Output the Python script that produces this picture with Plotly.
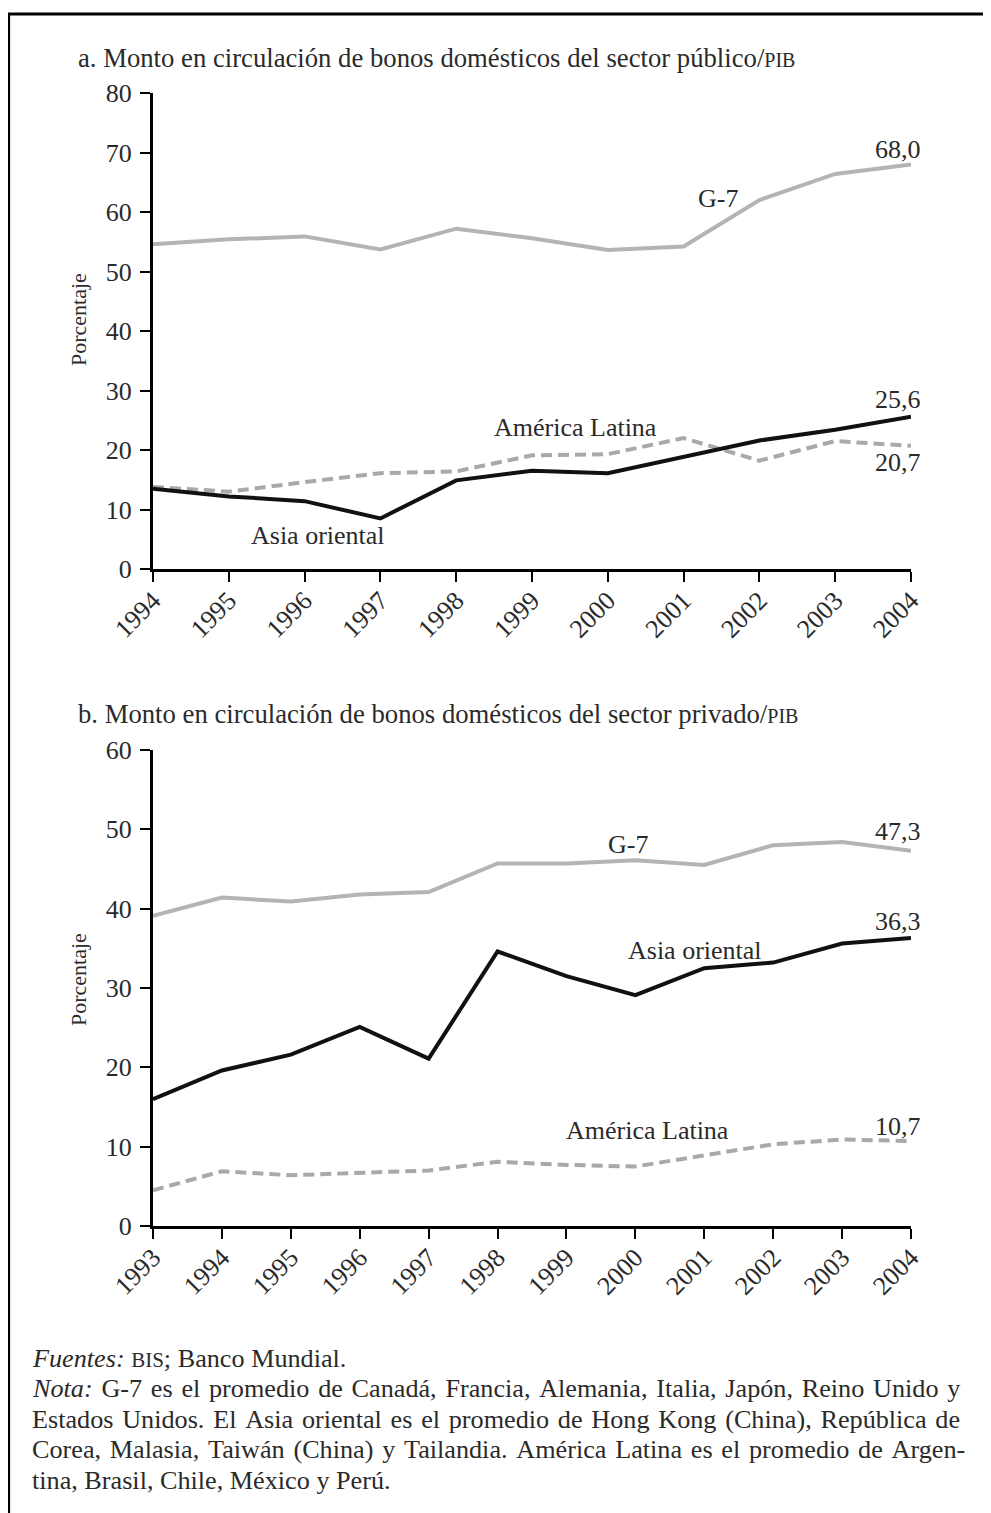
import plotly.graph_objects as go

# page has an 8px body margin; the figure is sized to fill the rest of the window
OFF = 8
W, H = 991 - OFF, 1513 - OFF

# ---------- data ----------
years_a = [1994, 1995, 1996, 1997, 1998, 1999, 2000, 2001, 2002, 2003, 2004]
g7_a = [54.6, 55.4, 55.9, 53.7, 57.2, 55.6, 53.6, 54.2, 62.0, 66.4, 68.0]
asia_a = [13.5, 12.2, 11.4, 8.5, 14.9, 16.5, 16.1, 18.9, 21.6, 23.4, 25.6]
latam_a = [13.8, 13.0, 14.6, 16.1, 16.4, 19.1, 19.3, 22.0, 18.2, 21.5, 20.7]

years_b = [1993, 1994, 1995, 1996, 1997, 1998, 1999, 2000, 2001, 2002, 2003, 2004]
g7_b = [39.1, 41.4, 40.9, 41.8, 42.1, 45.7, 45.7, 46.1, 45.5, 48.0, 48.4, 47.3]
asia_b = [16.0, 19.6, 21.6, 25.1, 21.1, 34.6, 31.5, 29.1, 32.5, 33.2, 35.6, 36.3]
latam_b = [4.5, 6.9, 6.4, 6.7, 7.0, 8.1, 7.7, 7.5, 8.9, 10.3, 10.9, 10.7]

yticks_a = [0, 10, 20, 30, 40, 50, 60, 70, 80]
yticks_b = [0, 10, 20, 30, 40, 50, 60]

title_a = "a. Monto en circulación de bonos domésticos del sector público/<span style='font-size:20px'>PIB</span>"
title_b = "b. Monto en circulación de bonos domésticos del sector privado/<span style='font-size:20px'>PIB</span>"
ytitle = "Porcentaje"
note_lines = [
    "<i>Fuentes:</i> <span style='font-size:21px'>BIS</span>; Banco Mundial.",
    "<i>Nota:</i> G-7 es el promedio de Canadá, Francia, Alemania, Italia, Japón, Reino Unido y",
    "Estados Unidos. El Asia oriental es el promedio de Hong Kong (China), República de",
    "Corea, Malasia, Taiwán (China) y Tailandia. América Latina es el promedio de Argen-",
    "tina, Brasil, Chile, México y Perú.",
]
justified = [False, True, True, True, False]

FONT = "Liberation Serif"
G7C = "#b4b4b4"
ALC = "#a9a9a9"
TXT = "#2a2a2a"


def fmt(v):
    return f"{v:.1f}".replace(".", ",")


def px_x(p):
    return (p - OFF) / W


def px_y(p):
    return 1 - (p - OFF) / H


fig = go.Figure()

# panel a
fig.add_trace(go.Scatter(x=years_a, y=g7_a, mode="lines", line=dict(color=G7C, width=4), xaxis="x", yaxis="y"))
fig.add_trace(go.Scatter(x=years_a, y=latam_a, mode="lines", line=dict(color=ALC, width=4, dash="11px,6px"), xaxis="x", yaxis="y"))
fig.add_trace(go.Scatter(x=years_a, y=asia_a, mode="lines", line=dict(color="#111111", width=4), xaxis="x", yaxis="y"))
# panel b
fig.add_trace(go.Scatter(x=years_b, y=g7_b, mode="lines", line=dict(color=G7C, width=4), xaxis="x2", yaxis="y2"))
fig.add_trace(go.Scatter(x=years_b, y=latam_b, mode="lines", line=dict(color=ALC, width=4, dash="11px,6px"), xaxis="x2", yaxis="y2"))
fig.add_trace(go.Scatter(x=years_b, y=asia_b, mode="lines", line=dict(color="#111111", width=4), xaxis="x2", yaxis="y2"))

axis_common = dict(
    showgrid=False, zeroline=False, showline=True, linecolor="black", linewidth=3,
    ticks="outside", tickcolor="black", tickwidth=1.5, automargin=False,
    tickfont=dict(family=FONT, size=26, color=TXT),
)
xaxis_extra = dict(ticklen=10, tickangle=-45, ticklabelstandoff=-7)
yaxis_extra = dict(ticklen=10, ticklabelstandoff=3)

fig.update_layout(
    template="none",
    width=W, height=H,
    margin=dict(l=0, r=0, t=0, b=0, autoexpand=False),
    paper_bgcolor="white", plot_bgcolor="white",
    showlegend=False,
    xaxis=dict(domain=[px_x(153), px_x(911)], range=[years_a[0], years_a[-1]], anchor="y",
               tickvals=years_a, **xaxis_extra, **axis_common),
    yaxis=dict(domain=[px_y(569), px_y(93)], range=[yticks_a[0], yticks_a[-1]], anchor="x",
               tickvals=yticks_a, **yaxis_extra, **axis_common),
    xaxis2=dict(domain=[px_x(153), px_x(911)], range=[years_b[0], years_b[-1]], anchor="y2",
                tickvals=years_b, **xaxis_extra, **axis_common),
    yaxis2=dict(domain=[px_y(1226), px_y(750)], range=[yticks_b[0], yticks_b[-1]], anchor="x2",
                tickvals=yticks_b, **yaxis_extra, **axis_common),
)

ann = []
lab = dict(family=FONT, size=26, color=TXT)
# titles
ann.append(dict(xref="paper", yref="paper", x=px_x(76), y=px_y(58), xanchor="left", yanchor="middle",
                text=title_a, showarrow=False, font=dict(family=FONT, size=26.7, color=TXT)))
ann.append(dict(xref="paper", yref="paper", x=px_x(76), y=px_y(714), xanchor="left", yanchor="middle",
                text=title_b, showarrow=False, font=dict(family=FONT, size=26.7, color=TXT)))
# y titles
for yc in (320, 980):
    ann.append(dict(xref="paper", yref="paper", x=px_x(78), y=px_y(yc), xanchor="center", yanchor="middle",
                    text=ytitle, textangle=-90, showarrow=False, font=dict(family=FONT, size=22, color=TXT)))


def end_label(xr, yr, xs, ys, ysh):
    return dict(xref=xr, yref=yr, x=xs[-1], y=ys[-1], text=fmt(ys[-1]), showarrow=False, font=lab,
                xanchor="right", yanchor="middle", xshift=12, yshift=ysh)


# panel a labels
ann += [
    dict(xref="x", yref="y", x=2001.45, y=62.3, text="G-7", showarrow=False, font=lab),
    dict(xref="x", yref="y", x=1999.57, y=23.7, text="América Latina", showarrow=False, font=lab),
    dict(xref="x", yref="y", x=1996.18, y=5.7, text="Asia oriental", showarrow=False, font=lab),
    end_label("x", "y", years_a, g7_a, 15),
    end_label("x", "y", years_a, asia_a, 17),
    end_label("x", "y", years_a, latam_a, -17),
]
# panel b labels
ann += [
    dict(xref="x2", yref="y2", x=1999.89, y=48.05, text="G-7", showarrow=False, font=lab),
    dict(xref="x2", yref="y2", x=2000.87, y=34.68, text="Asia oriental", showarrow=False, font=lab),
    dict(xref="x2", yref="y2", x=2000.17, y=11.98, text="América Latina", showarrow=False, font=lab),
    end_label("x2", "y2", years_b, g7_b, 19),
    end_label("x2", "y2", years_b, asia_b, 17),
    end_label("x2", "y2", years_b, latam_b, 15),
]
# notes (justified lines get extra hair spaces in each word gap)
for i, (t, j) in enumerate(zip(note_lines, justified)):
    if j:
        t = t.replace(" ", " \u200a")
    ann.append(dict(xref="paper", yref="paper", x=px_x(30), y=px_y(1358 + i * 30.5), xanchor="left",
                    yanchor="middle", text=t, showarrow=False, font=dict(family=FONT, size=26.2, color=TXT)))

fig.update_layout(annotations=ann)

# frame (top and left edges)
fig.add_shape(type="line", xref="paper", yref="paper", x0=0, x1=1.0, y0=px_y(14), y1=px_y(14),
              line=dict(color="black", width=3))
fig.add_shape(type="line", xref="paper", yref="paper", x0=0.6 / W, x1=0.6 / W, y0=0, y1=px_y(14),
              line=dict(color="black", width=3))

fig.write_html("out.html")
